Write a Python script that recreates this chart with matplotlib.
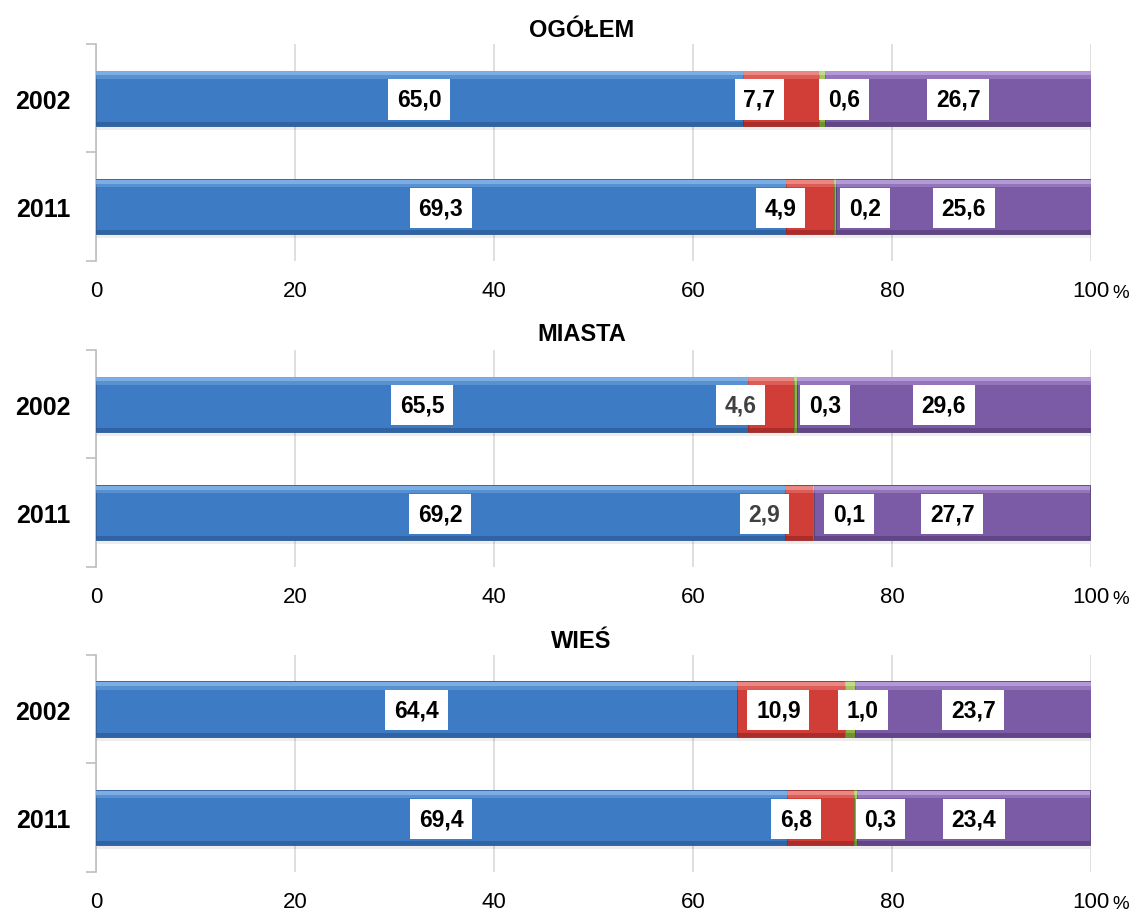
import numpy as np
import matplotlib.pyplot as plt

plt.rcParams['font.family'] = ['Liberation Sans', 'DejaVu Sans']

# data (percent)
panels = ['OGÓŁEM', 'MIASTA', 'WIEŚ']
years = ['2002', '2011']
blue = [[65.0, 69.3], [65.5, 69.2], [64.4, 69.4]]
red = [[7.7, 4.9], [4.6, 2.9], [10.9, 6.8]]
green = [[0.6, 0.2], [0.3, 0.1], [1.0, 0.3]]
purple = [[26.7, 25.6], [29.6, 27.7], [23.7, 23.4]]
ticks = [0, 20, 40, 60, 80, 100]

colors = ['#3D7BC4', '#D13D37', '#8DB443', '#7B5AA6']
highlight = ['#8CBBEE', '#F29A95', '#CFE69B', '#C2A9E2']
shade = ['#2A5A95', '#9A2724', '#62832A', '#563D7A']
# labels drawn in gray instead of black (panel, series)
gray_labels = [(1, 1)]

fig = plt.figure(figsize=(11.36, 9.12), dpi=100)
axes_bottoms = [0.7127, 0.3772, 0.0428]
titles_y = [0.967, 0.633, 0.297]
H = 0.238
bar_h = 0.51

for p in range(3):
    ax = fig.add_axes([0.0845, axes_bottoms[p], 0.876, H])
    series = [blue[p], red[p], green[p], purple[p]]
    ypos = np.arange(len(years))
    left = np.zeros(len(years))
    for s, vals in enumerate(series):
        vals = np.array(vals)
        # soft shadow under the bar
        ax.barh(ypos + 0.035, vals, left=left, height=bar_h, color='#000000',
                alpha=0.07, zorder=2, linewidth=0)
        ax.barh(ypos, vals, left=left, height=bar_h, color=colors[s],
                zorder=3, linewidth=0.6, edgecolor=shade[s])
        # bevel: light strip on top, dark strip at bottom
        ax.barh(ypos - bar_h / 2 + 0.025, vals, left=left, height=0.04,
                color=highlight[s], zorder=4, linewidth=0, alpha=0.8)
        ax.barh(ypos - bar_h / 2 + 0.06, vals, left=left, height=0.03,
                color=highlight[s], zorder=4, linewidth=0, alpha=0.35)
        ax.barh(ypos + bar_h / 2 - 0.02, vals, left=left, height=0.04,
                color=shade[s], zorder=4, linewidth=0, alpha=0.7)
        left = left + vals

    # data labels, pushed apart where segments are too narrow
    for i in range(len(years)):
        vals = [series[s][i] for s in range(4)]
        starts = np.concatenate([[0], np.cumsum(vals)[:-1]])
        cx = list(starts + np.array(vals) / 2)
        min_sep = 8.5
        for _ in range(20):
            for k in range(1, 4):
                d = cx[k] - cx[k - 1]
                if d < min_sep:
                    mid = (cx[k] + cx[k - 1]) / 2
                    if k - 1 == 0:
                        cx[k] = cx[k - 1] + min_sep
                    else:
                        cx[k - 1] = mid - min_sep / 2
                        cx[k] = mid + min_sep / 2
        for s in range(4):
            col = '#404040' if (p, s) in gray_labels else 'black'
            ax.text(cx[s], ypos[i] + 0.01, f'{vals[s]:.1f}'.replace('.', ','),
                    ha='center', va='center', fontsize=16.5, fontweight='bold',
                    color=col, zorder=6,
                    bbox=dict(boxstyle='square,pad=0.38', fc='white', ec='none'))

    ax.set_xlim(0, 100)
    ax.set_ylim(1.5, -0.5)
    ax.set_xticks(ticks)
    ax.set_xticklabels([str(t) for t in ticks], fontsize=16)
    ax.tick_params(axis='x', length=0, pad=14)
    ax.set_yticks(ypos)
    ax.set_yticklabels(years, fontsize=18, fontweight='bold')
    ax.set_yticks([-0.5, 0.5, 1.5], minor=True)
    ax.tick_params(axis='y', which='major', length=0, pad=18)
    ax.tick_params(axis='y', which='minor', length=7, color='#BFBFBF', width=1.2)
    ax.grid(axis='x', color='#D9D9D9', linewidth=1.2, zorder=0)
    ax.set_axisbelow(True)
    for sp in ['top', 'right', 'bottom']:
        ax.spines[sp].set_visible(False)
    ax.spines['left'].set_color('#BFBFBF')
    ax.spines['left'].set_linewidth(1.2)
    ax.annotate('%', xy=(1.0, 0.0), xycoords='axes fraction',
                xytext=(15.5, -26), textcoords='offset points',
                fontsize=13.5, ha='left', va='baseline')

    fig.text(0.512, titles_y[p], panels[p], ha='center', va='center',
             fontsize=17, fontweight='bold')

fig.savefig('out.png', dpi=100)
